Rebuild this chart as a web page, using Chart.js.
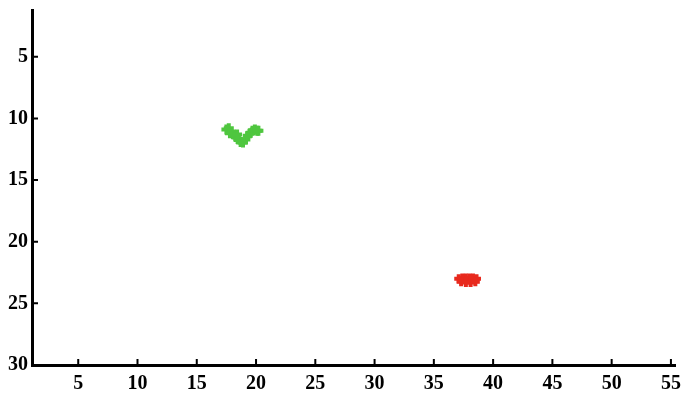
<!DOCTYPE html>
<html>
<head>
<meta charset="utf-8">
<script src="https://cdn.jsdelivr.net/npm/chart.js@4"></script>
<style>
  html, body { margin: 0; padding: 0; background: #fff; }
  #wrap { width: 688px; height: 394px; }
</style>
</head>
<body>
<div id="wrap"><canvas id="chart" width="688" height="394"></canvas></div>
<script>
// tick labels
const xTicks = [5, 10, 15, 20, 25, 30, 35, 40, 45, 50, 55];
const yTicks = [5, 10, 15, 20, 25, 30];

// green cluster
const greenX = [17.5, 17.7, 17.9, 18.1, 18.3, 18.5, 18.7, 18.9, 19.1, 19.3, 19.5, 19.7, 19.9, 20.1, 20.2, 17.8, 18.4];
const greenY = [10.9, 10.8, 11.1, 11.3, 11.5, 11.7, 11.9, 11.95, 11.7, 11.4, 11.2, 11.0, 10.9, 11.0, 11.0, 11.2, 11.3];

// red cluster
const redX = [37.1, 37.4, 37.7, 38.0, 38.3, 38.6, 37.3, 37.7, 38.1, 38.5];
const redY = [23.0, 22.95, 22.95, 22.95, 22.95, 23.0, 23.25, 23.3, 23.3, 23.25];

const toPoints = (xs, ys) => xs.map((x, i) => ({ x: x, y: ys[i] }));

const tickFont = { family: "'Liberation Serif', 'Times New Roman', serif", size: 20, weight: 'bold' };

// ticks pointing into the plot, like the original
const innerTicks = {
    id: 'innerTicks',
    afterDraw(chart) {
        const ctx = chart.ctx;
        const xs = chart.scales.x;
        const ys = chart.scales.y;
        const area = chart.chartArea;
        ctx.save();
        ctx.strokeStyle = '#000';
        ctx.lineWidth = 2;
        ctx.beginPath();
        xTicks.forEach(v => {
            const px = xs.getPixelForValue(v);
            ctx.moveTo(px, area.bottom);
            ctx.lineTo(px, area.bottom - 6);
        });
        yTicks.forEach(v => {
            if (v === 30) return;
            const py = ys.getPixelForValue(v);
            ctx.moveTo(area.left, py);
            ctx.lineTo(area.left + 6, py);
        });
        ctx.stroke();
        ctx.restore();
    }
};

new Chart(document.getElementById('chart'), {
    type: 'scatter',
    data: {
        datasets: [
            {
                data: toPoints(greenX, greenY),
                pointStyle: 'cross',
                pointRadius: 5,
                borderColor: '#4fc63f',
                backgroundColor: '#4fc63f',
                borderWidth: 4
            },
            {
                data: toPoints(redX, redY),
                pointStyle: 'cross',
                pointRadius: 4.5,
                borderColor: '#e8291d',
                backgroundColor: '#e8291d',
                borderWidth: 4
            }
        ]
    },
    options: {
        responsive: false,
        animation: false,
        layout: { padding: { top: 10, right: 10, left: 0, bottom: 0 } },
        plugins: {
            legend: { display: false },
            tooltip: { enabled: false }
        },
        scales: {
            x: {
                type: 'linear',
                min: 1.1,
                max: 55.4,
                afterBuildTicks: s => { s.ticks = xTicks.map(v => ({ value: v })); },
                afterFit: s => { s.height = 29; },
                grid: { drawOnChartArea: false, drawTicks: false },
                border: { display: true, color: '#000', width: 3 },
                ticks: { color: '#000', font: tickFont, padding: 7, maxRotation: 0, autoSkip: false }
            },
            y: {
                type: 'linear',
                reverse: true,
                min: 1.2,
                max: 30,
                afterBuildTicks: s => { s.ticks = yTicks.map(v => ({ value: v })); },
                afterFit: s => { s.width = 32; s.paddingTop = 0; },
                grid: { drawOnChartArea: false, drawTicks: false },
                border: { display: true, color: '#000', width: 3 },
                ticks: { color: '#000', font: tickFont, padding: 4, autoSkip: false }
            }
        }
    },
    plugins: [innerTicks]
});
</script>
</body>
</html>
